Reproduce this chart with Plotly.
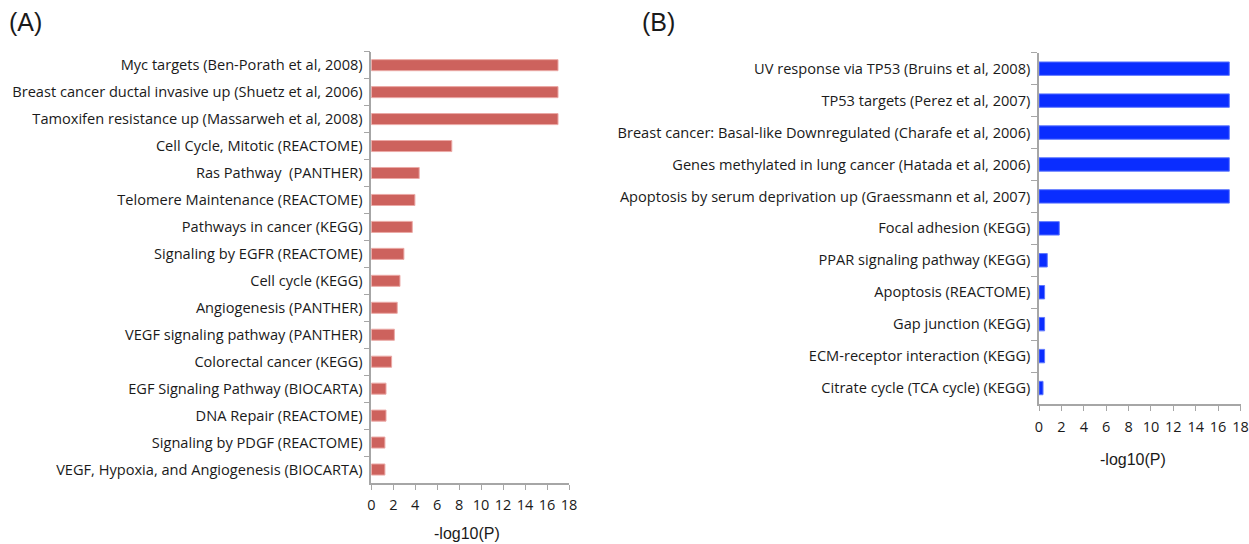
import plotly.graph_objects as go

W, H = 1249, 544

cats_a = [
    "Myc targets (Ben-Porath et al, 2008)",
    "Breast cancer ductal invasive up (Shuetz et al, 2006)",
    "Tamoxifen resistance up (Massarweh et al, 2008)",
    "Cell Cycle, Mitotic (REACTOME)",
    "Ras Pathway  (PANTHER)",
    "Telomere Maintenance (REACTOME)",
    "Pathways in cancer (KEGG)",
    "Signaling by EGFR (REACTOME)",
    "Cell cycle (KEGG)",
    "Angiogenesis (PANTHER)",
    "VEGF signaling pathway (PANTHER)",
    "Colorectal cancer (KEGG)",
    "EGF Signaling Pathway (BIOCARTA)",
    "DNA Repair (REACTOME)",
    "Signaling by PDGF (REACTOME)",
    "VEGF, Hypoxia, and Angiogenesis (BIOCARTA)",
]
vals_a = [17.0, 17.0, 17.0, 7.33, 4.36, 3.97, 3.73, 2.97, 2.61, 2.36, 2.1, 1.85, 1.34, 1.34, 1.24, 1.24]

cats_b = [
    "UV response via TP53 (Bruins et al, 2008)",
    "TP53 targets (Perez et al, 2007)",
    "Breast cancer: Basal-like Downregulated (Charafe et al, 2006)",
    "Genes methylated in lung cancer (Hatada et al, 2006)",
    "Apoptosis by serum deprivation up (Graessmann et al, 2007)",
    "Focal adhesion (KEGG)",
    "PPAR signaling pathway (KEGG)",
    "Apoptosis (REACTOME)",
    "Gap junction (KEGG)",
    "ECM-receptor interaction (KEGG)",
    "Citrate cycle (TCA cycle) (KEGG)",
]
vals_b = [17.0, 17.0, 17.0, 17.0, 17.0, 1.81, 0.74, 0.5, 0.5, 0.5, 0.36]

x_ticks = [0, 2, 4, 6, 8, 10, 12, 14, 16, 18]
x_title = "-log10(P)"

RED = "#cd625d"
BLUE = "#0a2dff"
AXIS = "#a6a6a6"
TXT = "#1a1a1a"
LABEL_FONT = dict(family="Open Sans", size=14.6, color=TXT)
TICK_FONT = dict(family="Open Sans", size=14.5, color=TXT)

def px(x):
    return x / W

def py(y):
    return 1 - y / H

fig = go.Figure()
fig.add_trace(go.Bar(
    x=vals_a, y=cats_a, orientation="h", width=0.41,
    marker=dict(color=RED, line=dict(color="#eba9a6", width=1)),
    xaxis="x", yaxis="y", showlegend=False,
))
fig.add_trace(go.Bar(
    x=vals_b, y=cats_b, orientation="h", width=0.42,
    marker=dict(color=BLUE, line=dict(color="#5f78ff", width=1)),
    xaxis="x2", yaxis="y2", showlegend=False,
))

common_x = dict(
    range=[0, 18], tickvals=x_ticks, ticks="outside", ticklen=5, tickcolor=AXIS,
    showline=True, linecolor=AXIS, linewidth=1.5, showgrid=False, zeroline=False,
    tickfont=TICK_FONT, automargin=False, ticklabeloverflow="allow",
)
common_y = dict(
    type="category", autorange="reversed", ticks="outside", ticklen=6,
    tickcolor=AXIS, tickson="boundaries", showline=True, linecolor=AXIS,
    linewidth=1.5, showgrid=False, tickfont=LABEL_FONT, automargin=False,
)

fig.update_layout(
    width=W, height=H, margin=dict(l=0, r=0, t=0, b=0, autoexpand=False),
    paper_bgcolor="white", plot_bgcolor="white",
    xaxis=dict(domain=[px(371.3), px(569)], anchor="y", ticklabelstandoff=3, **common_x),
    yaxis=dict(domain=[py(483), py(51.7)], anchor="x", categoryarray=cats_a,
               categoryorder="array", ticklabelstandoff=4, **common_y),
    xaxis2=dict(domain=[px(1039), px(1240.5)], anchor="y2", ticklabelstandoff=4, **common_x),
    yaxis2=dict(domain=[py(404), py(52.7)], anchor="x2", categoryarray=cats_b,
                categoryorder="array", ticklabelstandoff=4, **common_y),
    annotations=[
        dict(text="(A)", x=px(7), y=py(22), xref="paper", yref="paper",
             xanchor="left", yanchor="middle", showarrow=False,
             font=dict(family="Liberation Sans", size=25, color=TXT)),
        dict(text="(B)", x=px(640), y=py(22), xref="paper", yref="paper",
             xanchor="left", yanchor="middle", showarrow=False,
             font=dict(family="Liberation Sans", size=25, color=TXT)),
        dict(text=x_title, x=px(467), y=py(533), xref="paper", yref="paper",
             xanchor="center", yanchor="middle", showarrow=False,
             font=dict(family="Liberation Sans", size=16, color=TXT)),
        dict(text=x_title, x=px(1133), y=py(459), xref="paper", yref="paper",
             xanchor="center", yanchor="middle", showarrow=False,
             font=dict(family="Liberation Sans", size=16, color=TXT)),
    ],
)

fig.write_html(
    "out.html",
    config={"displayModeBar": False},
    post_script="document.body.style.margin='0';document.body.style.overflow='hidden';",
)
